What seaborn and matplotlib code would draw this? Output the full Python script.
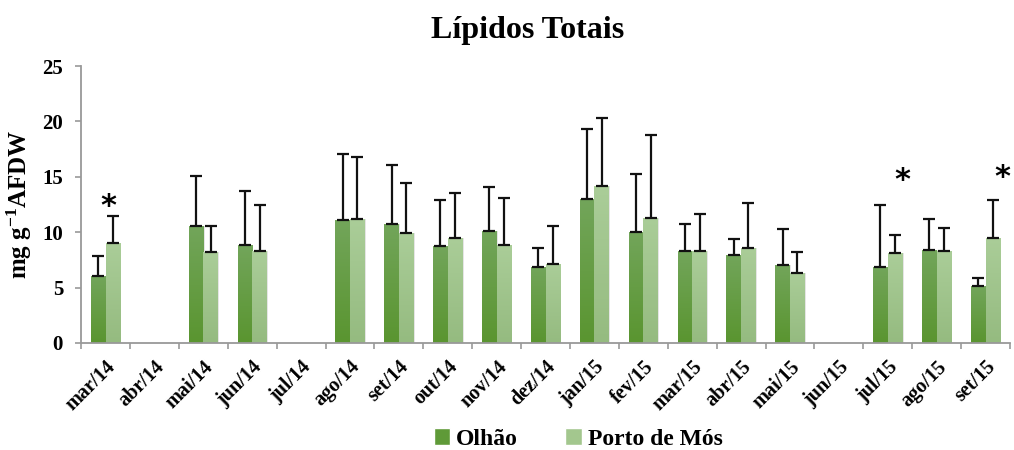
import numpy as np
import pandas as pd
import seaborn as sns
import matplotlib
matplotlib.use('Agg')
from matplotlib import pyplot as plt
from matplotlib.patches import Patch

# data (NaN = no sample)
months = ['mar/14', 'abr/14', 'mai/14', 'jun/14', 'jul/14', 'ago/14', 'set/14', 'out/14',
          'nov/14', 'dez/14', 'jan/15', 'fev/15', 'mar/15', 'abr/15', 'mai/15', 'jun/15',
          'jul/15', 'ago/15', 'set/15']
olhao = [6.05, np.nan, 10.55, 8.85, np.nan, 11.1, 10.75, 8.75, 10.1, 6.9, 13.0, 10.05,
         8.3, 7.95, 7.05, np.nan, 6.9, 8.4, 5.1]
olhao_err = [1.8, np.nan, 4.55, 4.85, np.nan, 6.0, 5.3, 4.2, 3.95, 1.7, 6.3, 5.2,
             2.45, 1.4, 3.2, np.nan, 5.55, 2.75, 0.8]
porto = [9.0, np.nan, 8.2, 8.3, np.nan, 11.2, 9.95, 9.5, 8.85, 7.15, 14.15, 11.3,
         8.3, 8.6, 6.35, np.nan, 8.1, 8.3, 9.5]
porto_err = [2.5, np.nan, 2.4, 4.15, np.nan, 5.6, 4.5, 4.0, 4.25, 3.45, 6.2, 7.5,
             3.35, 4.0, 1.85, np.nan, 1.65, 2.05, 3.4]
series = ['Olhão', 'Porto de Mós']
star_months = ['mar/14', 'jul/15', 'set/15']
star_y = [12.3, 14.7, 14.9]
star_shift = [0.05, 0.3, 0.35]  # asterisks were placed by hand in the original

colors = {'Olhão': '#5f9a38', 'Porto de Mós': '#a3c78e'}
grad = {'Olhão': ('#72a55a', '#5a9530'), 'Porto de Mós': ('#aacd98', '#95bb80')}

df = pd.DataFrame({
    'month': months * 2,
    'site': [series[0]] * len(months) + [series[1]] * len(months),
    'value': olhao + porto,
    'err': olhao_err + porto_err,
})
df['plotval'] = df['value'].fillna(0)

sns.set_style('white')
plt.rcParams['font.family'] = ['Liberation Serif', 'DejaVu Serif']
plt.rcParams['font.weight'] = 'bold'
plt.rcParams['text.color'] = 'black'
plt.rcParams['axes.labelcolor'] = 'black'
plt.rcParams['mathtext.fontset'] = 'custom'
plt.rcParams['mathtext.rm'] = 'Liberation Serif:bold'
plt.rcParams['mathtext.bf'] = 'Liberation Serif:bold'
plt.rcParams['mathtext.default'] = 'bf'

fig = plt.figure(figsize=(10.14, 4.5), dpi=100)
ax = fig.add_axes([0.08, 0.238, 0.916, 0.615])

sns.barplot(data=df, x='month', y='plotval', hue='site', order=months, hue_order=series,
            palette=colors, errorbar=None, width=0.6, gap=0, ax=ax, legend=False,
            linewidth=0, saturation=1)

# gradient fill + error bars
for cont, name in zip(ax.containers, series):
    sub = df[df['site'] == name].set_index('month').loc[months]
    c_top, c_bot = grad[name]
    cmap = matplotlib.colors.LinearSegmentedColormap.from_list('g', [c_bot, c_top])
    for bar, (_, row) in zip(cont, sub.iterrows()):
        if np.isnan(row['value']):
            continue
        x0, w, h = bar.get_x(), bar.get_width(), bar.get_height()
        # soft shadow
        ax.add_patch(plt.Rectangle((x0 + w * 0.08, 0), w, h, facecolor='#000000',
                                   alpha=0.10, zorder=1.5, linewidth=0))
        im = ax.imshow(np.linspace(0, 1, 50).reshape(-1, 1), cmap=cmap, aspect='auto',
                       extent=[x0, x0 + w, 0, h], origin='lower', zorder=2.5)
        im.set_clip_path(bar)
        ax.errorbar(x0 + w / 2, row['value'], yerr=[[0], [row['err']]], fmt='none',
                    ecolor='#111111', elinewidth=1.6, capsize=4.5, capthick=1.6, zorder=3)

for m, sy, dx in zip(star_months, star_y, star_shift):
    i = months.index(m)
    ax.text(i + dx, sy, '*', ha='center', va='center', fontsize=22,
            family='DejaVu Sans', fontweight='bold', color='black')

ax.set_xlim(-0.5, len(months) - 0.5)
ax.set_ylim(0, 25)
ax.set_yticks(range(0, 26, 5))
ax.set_xticks(range(len(months)))
ax.set_xticklabels(months, rotation=45, ha='right', rotation_mode='anchor',
                   fontsize=14.5, fontweight='bold')
ax.set_xticks(np.arange(-0.5, len(months), 1), minor=True)
ax.tick_params(axis='x', which='major', length=0, pad=10, labelcolor='black')
ax.tick_params(axis='x', which='minor', length=4, color='#999999', width=1.2, direction='out')
ax.tick_params(axis='y', length=4, color='#999999', width=1.2, direction='out',
               labelsize=15, pad=9, labelcolor='black')
ax.xaxis.set_ticks_position('bottom')
ax.yaxis.set_ticks_position('left')
for lab in ax.get_yticklabels():
    lab.set_fontweight('bold')
for s in ['top', 'right']:
    ax.spines[s].set_visible(False)
for s in ['left', 'bottom']:
    ax.spines[s].set_color('#999999')
    ax.spines[s].set_linewidth(1.3)

ax.set_xlabel('')
ax.set_ylabel('mg g$^{-1}$AFDW', fontsize=18, fontweight='bold', labelpad=6)
fig.suptitle('Lípidos Totais', fontsize=23, fontweight='bold', x=0.52, y=0.965)

handles = [Patch(facecolor=colors[s], label=s) for s in series]
fig.legend(handles=handles, loc='center', ncol=2, frameon=False,
           bbox_to_anchor=(0.57, 0.024), prop={'weight': 'bold', 'size': 17},
           handlelength=0.7, handleheight=0.7, handletextpad=0.25, columnspacing=2.0)

fig.savefig('out.png', dpi=100)
